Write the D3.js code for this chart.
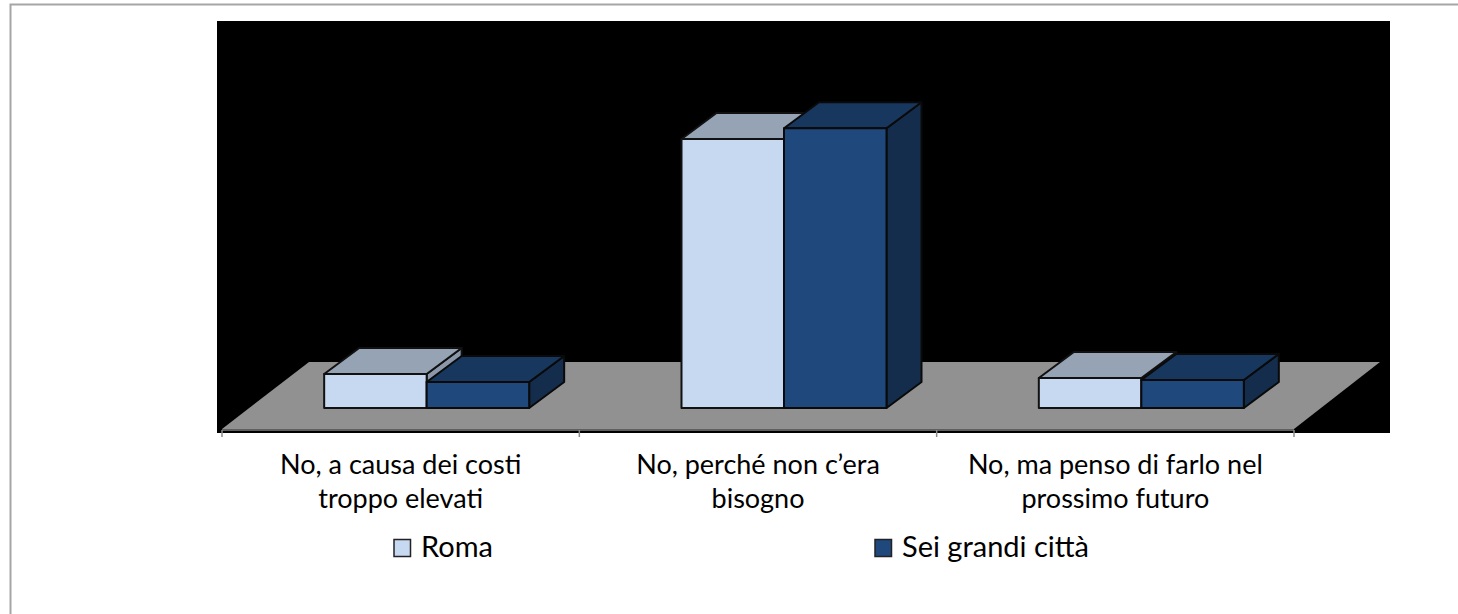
<!DOCTYPE html>
<html>
<head>
<meta charset="utf-8">
<script src="https://cdn.jsdelivr.net/npm/d3@7"></script>
<style>
  html, body { margin: 0; padding: 0; background: #fff; }
  svg { display: block; font-family: Lato, "Open Sans", sans-serif; }
</style>
</head>
<body>
<div id="chart"></div>
<script>
const categories = ["No, a causa dei costi troppo elevati", "No, perché non c’era bisogno", "No, ma penso di farlo nel prossimo futuro"];
const categoryLines = [["No, a causa dei costi", "troppo elevati"], ["No, perché non c’era", "bisogno"], ["No, ma penso di farlo nel", "prossimo futuro"]];
const seriesNames = ["Roma", "Sei grandi città"];
const roma = [10.2, 80.8, 9.0];
const seiCitta = [7.8, 84.0, 8.4];
const colors = [
  { front: "#c6d9f1", top: "#95a3b5", side: "#8b98a9", stroke: "#111" },
  { front: "#1f497d", top: "#17375e", side: "#152d4d", stroke: "#0a0a0a" },
];

const width = 1458;
const height = 614;
const plot = { l: 217, r: 1390, t: 21, b: 433 };
const axisX = [222, 1294];
const baseY = 429; // front edge of the floor
const barBase = 408;
const depth = { x: 35, y: -26 };
const floorDepth = { x: 87, y: -67 };
const barShift = 26; // bars sit right of the band centre, on the middle of the floor

const svg = d3.select("#chart").append("svg").attr("width", width).attr("height", height);

// outer frame, runs off the picture on the right and bottom
svg.append("rect").attr("x", 10.5).attr("y", 4.5).attr("width", 1480).attr("height", 640)
  .attr("fill", "#fff").attr("stroke", "#a6a6a6").attr("stroke-width", 2);

svg.append("rect").attr("x", plot.l).attr("y", plot.t).attr("width", plot.r - plot.l).attr("height", plot.b - plot.t).attr("fill", "#000");

const x = d3.scaleBand().domain(categories).range(axisX);
const inner = d3.scaleBand().domain(seriesNames).range([0, 205]);
const y = d3.scaleLinear().domain([0, 100]).range([barBase, barBase - 333]);
const poly = (pts) => pts.map((p) => p.join(",")).join(" ");

// floor
svg.append("polygon")
  .attr("points", poly([
    [axisX[0], baseY],
    [axisX[0] + floorDepth.x, baseY + floorDepth.y],
    [axisX[1] + floorDepth.x - 1, baseY + floorDepth.y],
    [axisX[1], baseY],
  ]))
  .attr("fill", "#919191");

// axis line and ticks
svg.append("line").attr("x1", axisX[0]).attr("x2", axisX[1]).attr("y1", 430).attr("y2", 430).attr("stroke", "#5f5f5f").attr("stroke-width", 2);
svg.selectAll(".edge-tick")
  .data(d3.range(categories.length + 1))
  .join("line")
  .attr("class", "edge-tick")
  .attr("x1", (i) => axisX[0] + i * x.step())
  .attr("x2", (i) => axisX[0] + i * x.step())
  .attr("y1", 430)
  .attr("y2", 437)
  .attr("stroke", "#8c8c8c")
  .attr("stroke-width", 1.5);

// bars, back to front from left to right
const drawBar = (cat, name, value, c) => {
  const x0 = x(cat) + (x.step() - inner.range()[1]) / 2 + inner(name) + barShift;
  const x1 = x0 + inner.bandwidth();
  const yTop = y(value);
  const g = svg.append("g").attr("class", "bar").attr("stroke", c.stroke).attr("stroke-width", 2).attr("stroke-linejoin", "round");
  g.append("polygon")
    .attr("points", poly([[x1, yTop], [x1 + depth.x, yTop + depth.y], [x1 + depth.x, barBase + depth.y], [x1, barBase]]))
    .attr("fill", c.side);
  g.append("polygon")
    .attr("points", poly([[x0, yTop], [x0 + depth.x, yTop + depth.y], [x1 + depth.x, yTop + depth.y], [x1, yTop]]))
    .attr("fill", c.top);
  g.append("rect").attr("x", x0).attr("y", yTop).attr("width", x1 - x0).attr("height", barBase - yTop).attr("fill", c.front);
};
categories.forEach((cat, i) => {
  drawBar(cat, seriesNames[0], roma[i], colors[0]);
  drawBar(cat, seriesNames[1], seiCitta[i], colors[1]);
});

// category labels
const axis = svg.append("g").attr("transform", `translate(0,${baseY})`).call(d3.axisBottom(x).tickSize(0).tickFormat(""));
axis.attr("font-family", null).attr("font-size", null);
axis.select(".domain").remove();
axis.selectAll(".tick text").remove();
axis.selectAll(".tick").each(function (d, i) {
  const t = d3.select(this).append("text").attr("text-anchor", "middle").attr("fill", "#000").attr("font-size", 27);
  categoryLines[i].forEach((line, j) => {
    t.append("tspan").attr("x", 0).attr("y", 45 + j * 34).text(line);
  });
});

// legend
const legendX = [411, 892];
const legend = svg.selectAll(".legend").data(seriesNames).join("g").attr("class", "legend").attr("transform", (d, i) => `translate(${legendX[i]},548)`);
legend.append("rect").attr("x", -17).attr("y", -8.5).attr("width", 16.5).attr("height", 17).attr("fill", (d, i) => colors[i].front).attr("stroke", "#222").attr("stroke-width", 1.5);
legend.append("text").attr("x", 10).attr("y", 9).attr("font-size", 29).attr("fill", "#000").text((d) => d);
</script>
</body>
</html>
